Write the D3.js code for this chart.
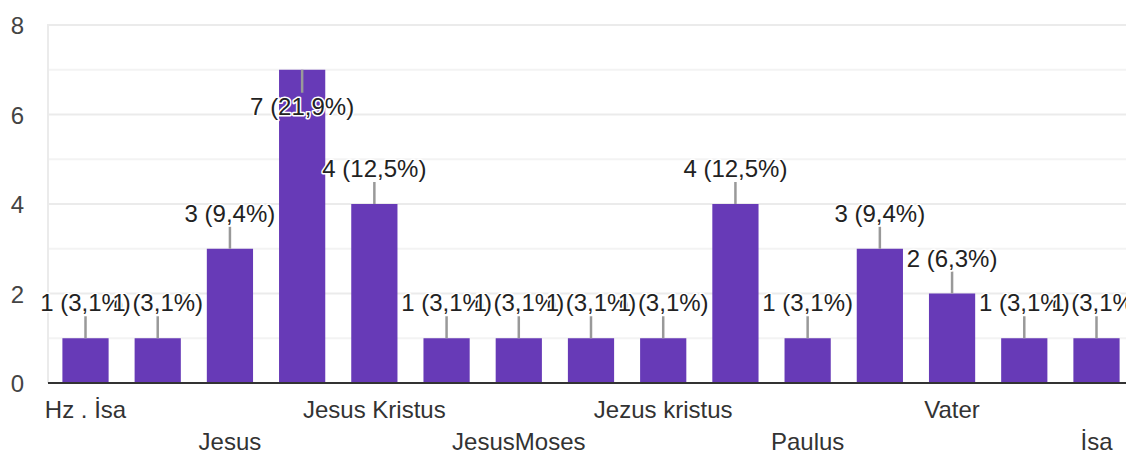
<!DOCTYPE html>
<html>
<head>
<meta charset="utf-8">
<script src="https://cdn.jsdelivr.net/npm/d3@7"></script>
<style>
  html, body { margin: 0; padding: 0; background: #fff; }
  svg { display: block; font-family: Arial, "Liberation Sans", sans-serif; }
</style>
</head>
<body>
<svg id="chart" width="1126" height="455"></svg>
<script>
// Answers and how many people gave each one
const categories = [
  "Hz . İsa", "Isa", "Jesus", "Jesus Christus", "Jesus Kristus", "Jesus kristus",
  "JesusMoses", "Jezus", "Jezus kristus", "Moses", "Paulus", "Petrus",
  "Vater", "Yesus", "İsa"
];
const counts = [1, 1, 3, 7, 4, 1, 1, 1, 1, 4, 1, 3, 2, 1, 1];
const yTicks = [0, 2, 4, 6, 8];
const yMinor = [1, 3, 5, 7];

const total = d3.sum(counts);
const svg = d3.select("#chart");
const FONT = 'Arial, "Liberation Sans", sans-serif';

const plot = { left: 48, right: 1132.6, top: 25, bottom: 383 };

const x = d3.scaleBand()
  .domain(categories)
  .range([plot.left + 1.4, plot.right])
  .paddingInner(0.36)
  .paddingOuter(0.18);

const y = d3.scaleLinear().domain([0, 8]).range([plot.bottom, plot.top]);

// gridlines
svg.append("g").selectAll("line").data(yMinor).join("line")
  .attr("x1", plot.left).attr("x2", 1126)
  .attr("y1", d => y(d)).attr("y2", d => y(d))
  .attr("stroke", "#f3f3f3").attr("stroke-width", 2);
svg.append("g").selectAll("line").data(yTicks.filter(d => d > 0)).join("line")
  .attr("x1", plot.left).attr("x2", 1126)
  .attr("y1", d => y(d)).attr("y2", d => y(d))
  .attr("stroke", "#ebebeb").attr("stroke-width", 2);
svg.append("line")
  .attr("x1", plot.left).attr("x2", plot.left)
  .attr("y1", plot.top - 1).attr("y2", plot.bottom)
  .attr("stroke", "#ebebeb").attr("stroke-width", 2);

// y axis labels
const yAxis = d3.axisLeft(y).tickValues(yTicks).tickSize(0).tickPadding(0);
const gy = svg.append("g").attr("transform", "translate(24,0)").call(yAxis);
gy.select(".domain").remove();
gy.selectAll("text")
  .attr("font-family", FONT)
  .attr("font-size", 24).attr("fill", "#444").attr("dy", "0.36em");

// bars
svg.append("g").selectAll("rect").data(counts).join("rect")
  .attr("x", (d, i) => x(categories[i]))
  .attr("width", x.bandwidth())
  .attr("y", d => y(d))
  .attr("height", d => plot.bottom - y(d))
  .attr("fill", "#673ab7");

// baseline
svg.append("line")
  .attr("x1", plot.left).attr("x2", 1126)
  .attr("y1", plot.bottom).attr("y2", plot.bottom)
  .attr("stroke", "#333").attr("stroke-width", 2);

// x axis labels: every other category, alternating rows
const xAxis = d3.axisBottom(x)
  .tickValues(categories.filter((c, i) => i % 2 === 0))
  .tickSize(0).tickPadding(0);
const gx = svg.append("g").attr("transform", `translate(0,${plot.bottom})`).call(xAxis);
gx.select(".domain").remove();
gx.selectAll("text")
  .attr("font-family", FONT)
  .attr("font-size", 24).attr("fill", "#333")
  .attr("dy", null)
  .attr("y", c => (categories.indexOf(c) % 4 === 0) ? 35 : 67);

// value annotations with leader lines
const fmtPct = v => (v / total * 100).toFixed(1).replace(".", ",") + "%";
const ann = svg.append("g");
counts.forEach((v, i) => {
  const cx = x(categories[i]) + x.bandwidth() / 2;
  const top = y(v);
  const inside = top - 50 < plot.top;
  const lineEnd = inside ? top + 23 : top - 22;
  const base = inside ? top + 45 : top - 27;
  ann.append("line")
    .attr("x1", cx).attr("x2", cx)
    .attr("y1", top).attr("y2", lineEnd)
    .attr("stroke", "#999").attr("stroke-width", 2.5);
  ann.append("text")
    .attr("x", cx).attr("y", base)
    .attr("text-anchor", "middle")
    .attr("font-family", FONT)
    .attr("font-size", 24).attr("fill", "#222")
    .attr("stroke", "#fff").attr("stroke-width", 3)
    .attr("paint-order", "stroke").attr("stroke-linejoin", "round")
    .text(`${v} (${fmtPct(v)})`);
});
</script>
</body>
</html>
